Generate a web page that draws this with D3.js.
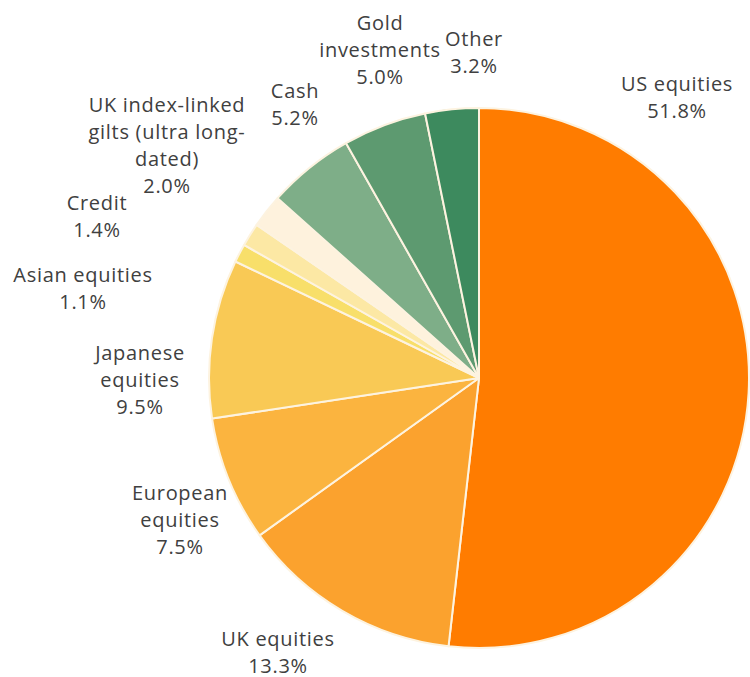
<!DOCTYPE html>
<html>
<head>
<meta charset="utf-8">
<script src="https://cdn.jsdelivr.net/npm/d3@7"></script>
<style>
  body { margin: 0; background: #fff; }
  svg text { font-family: "Open Sans", "Noto Sans", sans-serif; fill: #404040; }
</style>
</head>
<body>
<div id="chart"></div>
<script>
// allocation data
const categories = ["US equities", "UK equities", "European equities", "Japanese equities",
  "Asian equities", "Credit", "UK index-linked gilts (ultra long-dated)", "Cash",
  "Gold investments", "Other"];
const values = [51.8, 13.3, 7.5, 9.5, 1.1, 1.4, 2.0, 5.2, 5.0, 3.2];
const colours = ["#ff7c00", "#fba22e", "#fbb43f", "#f9c955", "#f8df6a", "#fce8a4",
  "#fef2dd", "#7eae88", "#5d9a70", "#3d8a5e"];

// how each label is wrapped in the picture
const labelLines = [["US equities"], ["UK equities"], ["European", "equities"],
  ["Japanese", "equities"], ["Asian equities"], ["Credit"],
  ["UK index-linked", "gilts (ultra long-", "dated)"], ["Cash"],
  ["Gold", "investments"], ["Other"]];

const width = 750, height = 677;
const cx = 479, cy = 378, radius = 270;
const lineH = 27;

// label block centres, relative to the pie centre
const labelOffsets = [[198, -281], [-201, 274], [-299, 142], [-339, 2], [-396, -90],
  [-382, -162], [-312, -233], [-184, -274], [-99, -328], [-5, -326]];

const data = categories.map((c, i) => ({ name: c, value: values[i], i: i }));

const svg = d3.select("#chart").append("svg")
  .attr("width", width)
  .attr("height", height);

const g = svg.append("g").attr("transform", "translate(" + cx + "," + cy + ")");

const pie = d3.pie().sort(null).value(d => d.value);
const arc = d3.arc().innerRadius(0).outerRadius(radius);

g.selectAll("path")
  .data(pie(data))
  .join("path")
  .attr("d", arc)
  .attr("fill", d => colours[d.data.i])
  .attr("stroke", "#fdf3e0")
  .attr("stroke-width", 2)
  .attr("stroke-linejoin", "round");

const labels = g.selectAll("text.lbl")
  .data(data)
  .join("text")
  .attr("class", "lbl")
  .attr("text-anchor", "middle")
  .style("font-size", "20px")
  .style("letter-spacing", "0.7px");

labels.each(function (d) {
  const lines = labelLines[d.i].concat([d.value.toFixed(1) + "%"]);
  const off = labelOffsets[d.i];
  const top = off[1] - (lines.length - 1) * lineH / 2;
  d3.select(this).selectAll("tspan")
    .data(lines)
    .join("tspan")
    .attr("x", off[0])
    .attr("y", (l, k) => top + k * lineH)
    .attr("dy", "0.35em")
    .text(l => l);
});
</script>
</body>
</html>
